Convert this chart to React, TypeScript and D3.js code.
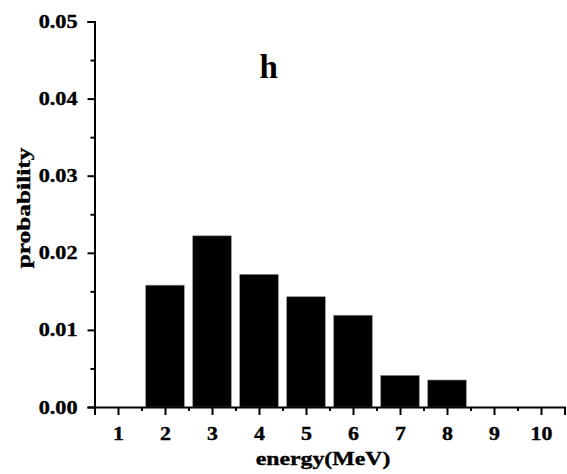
import { useEffect, useRef } from "react";
import * as d3 from "d3";

const energies = [1, 2, 3, 4, 5, 6, 7, 8, 9, 10];
const probabilities = [0, 0.0158, 0.0222, 0.0172, 0.0143, 0.0119, 0.0041, 0.0035, 0, 0];
const yTicks = [0, 0.01, 0.02, 0.03, 0.04, 0.05];

const App = () => {
  const svgRef = useRef<SVGSVGElement>(null);

  useEffect(() => {
    const width = 567;
    const height = 474;
    const margin = { top: 21.5, right: 2.5, bottom: 67, left: 94.5 };
    const font = "'Liberation Serif', 'Times New Roman', serif";

    const svg = d3.select(svgRef.current);
    svg.selectAll("*").remove();
    svg.attr("width", width).attr("height", height);

    const x = d3.scaleLinear()
      .domain([0.5, 10.5])
      .range([margin.left, width - margin.right]);

    const y = d3.scaleLinear()
      .domain([0, 0.05])
      .range([height - margin.bottom, margin.top]);

    const barW = (x(1) - x(0)) * 0.82;

    // Bars
    svg.append("g")
      .selectAll("rect")
      .data(energies.map((e, i) => ({ e, p: probabilities[i] })).filter(d => d.p > 0))
      .join("rect")
      .attr("x", d => x(d.e) - barW / 2)
      .attr("y", d => y(d.p))
      .attr("width", barW)
      .attr("height", d => y(0) - y(d.p))
      .attr("fill", "#000")
      .attr("stroke", "#888")
      .attr("stroke-width", 0.6);

    // X axis
    const gx = svg.append("g")
      .attr("transform", `translate(0,${y(0)})`);
    gx.call(d3.axisBottom(x).tickValues(energies).tickSize(8).tickPadding(11.5).tickFormat(d3.format("d")));
    gx.append("g")
      .call(d3.axisBottom(x).tickValues(d3.range(0.5, 11, 1)).tickSize(4).tickFormat(() => ""))
      .call(g => g.select(".domain").remove());

    // Y axis
    const gy = svg.append("g")
      .attr("transform", `translate(${x(0.5)},0)`);
    gy.call(d3.axisLeft(y).tickValues(yTicks).tickSize(7).tickFormat(d3.format(".2f")));
    gy.append("g")
      .call(d3.axisLeft(y).tickValues(d3.range(0.005, 0.05, 0.01)).tickSize(4).tickFormat(() => ""))
      .call(g => g.select(".domain").remove());

    svg.selectAll(".domain").attr("stroke", "#000").attr("stroke-width", 2);
    svg.selectAll(".tick line").attr("stroke", "#000").attr("stroke-width", 2);
    svg.selectAll(".tick text")
      .attr("font-family", font)
      .attr("font-weight", "bold")
      .attr("font-size", 19)
      .attr("fill", "#000")
      .attr("stroke", "#000")
      .attr("stroke-width", 0.4);
    gx.selectAll(".tick text").attr("transform", "scale(1.15,1)");
    gy.selectAll(".tick text")
      .attr("x", 0)
      .attr("transform", "translate(-17,0) scale(1.17,1)");

    // Axis titles
    svg.append("text")
      .attr("transform", "translate(323,465) scale(1.22,1)")
      .attr("text-anchor", "middle")
      .attr("font-family", font)
      .attr("font-weight", "bold")
      .attr("font-size", 19.5)
      .attr("stroke", "#000")
      .attr("stroke-width", 0.4)
      .text("energy(MeV)");

    svg.append("text")
      .attr("transform", `translate(30,208) rotate(-90) scale(1.3,1)`)
      .attr("text-anchor", "middle")
      .attr("font-family", font)
      .attr("font-weight", "bold")
      .attr("font-size", 19.5)
      .attr("stroke", "#000")
      .attr("stroke-width", 0.4)
      .text("probability");

    // Panel letter
    svg.append("text")
      .attr("x", 268.7)
      .attr("y", 78)
      .attr("text-anchor", "middle")
      .attr("font-family", font)
      .attr("font-weight", "bold")
      .attr("font-size", 33)
      .text("h");

    return () => {
      svg.selectAll("*").remove();
    };
  }, []);

  return (
    <div style={{ position: "absolute", left: 0, top: 0 }}>
      <svg ref={svgRef}></svg>
    </div>
  );
};

export default App;
